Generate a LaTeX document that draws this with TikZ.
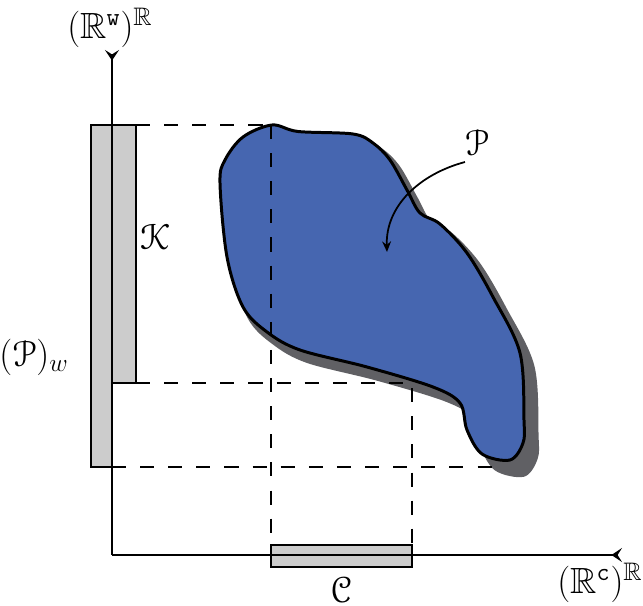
\documentclass[tikz,border=0pt]{standalone}
\usepackage{amssymb}
\usepackage[mathscr]{eucal}
\usetikzlibrary{arrows.meta}
\definecolor{blobblue}{RGB}{70,102,176}
\definecolor{shadowgray}{RGB}{96,96,100}
\definecolor{barfill}{RGB}{204,204,204}
\tikzset{
	axis/.style={line width=1.5pt,-{Stealth[reversed,length=6pt,width=8pt,inset=2.5pt]}},
	bar/.style={fill=barfill,draw,line width=1.5pt},
	guide/.style={line width=1.3pt,dash pattern=on 8pt off 8pt},
	lbl/.style={font=\huge}
}
\newcommand{\blobpath}{plot[smooth cycle,tension=0.55] coordinates{
	(3.2,8.6) (3.72,8.47) (4.82,8.42) (5.22,8.24) (5.56,7.9) (5.9,7.3)
	(6.16,6.84) (6.56,6.62) (7.1,6.04) (7.62,5.16) (8.16,4.04) (8.24,2.7) (8.22,2.24)
	(7.96,1.9) (7.4,2.02) (7.1,2.5) (6.96,3.04) (6.42,3.36) (5.1,3.76)
	(3.76,4.1) (3.1,4.46) (2.62,4.96) (2.3,5.96) (2.16,7.44) (2.26,7.9) (2.62,8.36)}}
\begin{document}
\begin{tikzpicture}
		\useasboundingbox (-2.24,-1.02) rectangle (10.62,11.1);
		\coordinate (o) at (0,0);
		\coordinate (ytop) at (0,10.1);
		\coordinate (xend) at (10.2,0);

		% projections
		\draw[bar] (-0.42,1.76) rectangle (0,8.6);
		\draw[bar] (0,3.44) rectangle (0.48,8.6);
		\draw[bar] (3.18,-0.24) rectangle (6,0.2);

		\draw[axis] (o) -- (ytop);
		\draw[axis] (o) -- (xend);

		% the set and its shadow
		\begin{scope}[shift={(0.08,-0.1)},scale around={1.035:(2.2,8.6)}]
			\fill[shadowgray] \blobpath;
		\end{scope}
		\fill[blobblue] \blobpath;

		\draw[guide] (0.48,8.6) -- (3.2,8.6);
		\draw[guide] (3.18,8.6) -- (3.18,0.2);
		\draw[guide] (0.48,3.44) -- (6,3.44) -- (6,0.2);
		\draw[guide] (0,1.76) -- (7.76,1.76);

		\draw[line width=1.7pt] \blobpath;

		\node[lbl,inner sep=1pt] (ylabel) at (-0.04,10.55) {$(\mathbb{R}^{\mathtt{w}})^{\mathbb{R}}$};
		\node[lbl] (xlabel) at (9.76,-0.56) {$(\mathbb{R}^{\mathtt{c}})^{\mathbb{R}}$};
		\node[lbl] (clabel) at (4.58,-0.7) {$\mathscr{C}$};
		\node[lbl] (klabel) at (0.86,6.36) {$\mathscr{K}$};
		\node[lbl] (pwlabel) at (-1.56,3.96) {$(\mathscr{P})_w$};
		\node[lbl] (plabel) at (7.3,8.24) {$\mathscr{P}$};
		\coordinate (pin) at (5.5,6.06);
		\draw[line width=1pt,-{Stealth[length=6pt,width=5pt,inset=2pt]}] (7.06,7.86) to[out=195,in=92] (pin);
	\end{tikzpicture}
\end{document}
